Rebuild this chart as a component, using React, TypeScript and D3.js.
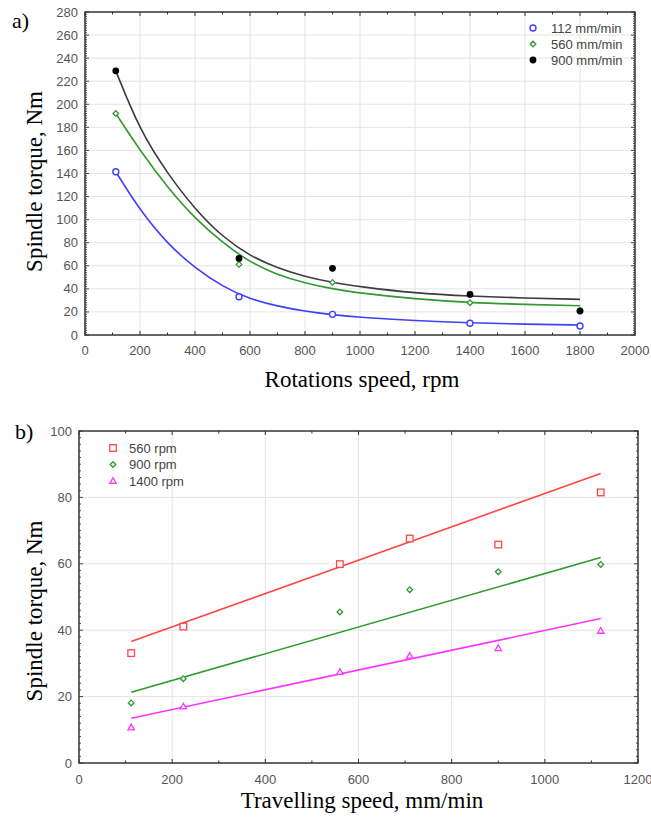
import React from "react";
import * as d3 from "d3";

// ---- panel a) spindle torque vs rotations speed
const rotSpeeds = [112, 560, 900, 1400, 1800];
const torque112 = [141.5, 33.2, 17.9, 10.2, 7.8];
const torque560 = [192, 61.2, 45.6, 28, 21];
const torque900 = [229, 66.4, 57.8, 35.2, 20.8];

// fitted curves
const fitRot = [112, 200, 300, 400, 500, 600, 700, 800, 900, 1000, 1200, 1400, 1600, 1800];
const fit112 = [141.5, 108, 79, 58, 42, 31, 25, 20.5, 17.5, 15.3, 12.4, 10.4, 9.4, 8.7];
const fit560 = [192, 160, 128, 101, 80, 63, 52, 45, 40, 36.3, 31.2, 28, 26.5, 25.4];
const fit900 = [229, 177, 140, 109, 85, 68.5, 58, 50.5, 45.5, 41.8, 36.2, 33.6, 32, 30.9];

const legendA = ["112 mm/min", "560 mm/min", "900 mm/min"];
const xTicksA = d3.range(0, 2001, 200);
const yTicksA = d3.range(0, 281, 20);

// ---- panel b) spindle torque vs travelling speed
const travSpeeds = [112, 224, 560, 710, 900, 1120];
const torque560rpm = [33.1, 41.1, 59.9, 67.6, 65.8, 81.5];
const torque900rpm = [18.1, 25.4, 45.5, 52.2, 57.6, 59.8];
const torque1400rpm = [10.7, 17.0, 27.4, 32.3, 34.6, 39.8];

const lineEnds = [112, 1120];
const line560rpm = [36.6, 87.2];
const line900rpm = [21.3, 61.9];
const line1400rpm = [13.5, 43.5];

const legendB = ["560 rpm", "900 rpm", "1400 rpm"];
const xTicksB = d3.range(0, 1201, 200);
const yTicksB = d3.range(0, 101, 20);

const BLUE = "#3f3fff";
const GREEN = "#2f9a2f";
const DARK = "#3c3c3c";
const RED = "#ff4646";
const MAGENTA = "#ff33ff";
const SANS = "'Liberation Sans', Arial, sans-serif";
const SERIF = "'Liberation Serif', 'Times New Roman', serif";

type Shape = "circle" | "dot" | "diamond" | "square" | "triangle";

function Marker({ shape, x, y, color }: { shape: Shape; x: number; y: number; color: string }) {
  if (shape === "circle")
    return <circle cx={x} cy={y} r={3} fill="white" stroke={color} strokeWidth={1.4} />;
  if (shape === "dot") return <circle cx={x} cy={y} r={3.4} fill="#000" />;
  if (shape === "diamond")
    return (
      <path
        d={`M${x},${y - 2.8}L${x + 2.8},${y}L${x},${y + 2.8}L${x - 2.8},${y}Z`}
        fill="white"
        stroke={color}
        strokeWidth={1.3}
      />
    );
  if (shape === "square")
    return <rect x={x - 3.3} y={y - 3.3} width={6.6} height={6.6} fill="white" stroke={color} strokeWidth={1.3} />;
  return (
    <path
      d={`M${x},${y - 3.3}L${x + 3.2},${y + 2.4}L${x - 3.2},${y + 2.4}Z`}
      fill="white"
      stroke={color}
      strokeWidth={1.3}
    />
  );
}

function Frame({
  x,
  y,
  xMinor,
  yMinor,
  xTicks,
  yTicks,
  labelRight,
  labelY,
}: {
  x: d3.ScaleLinear<number, number>;
  y: d3.ScaleLinear<number, number>;
  xMinor: number[];
  yMinor: number[];
  xTicks: number[];
  yTicks: number[];
  labelRight: number;
  labelY: number;
}) {
  const [x0, x1] = x.range();
  const [y0, y1] = y.range();
  return (
    <g>
      {xTicks.slice(1, -1).map((t) => (
        <line key={"gx" + t} x1={x(t)} x2={x(t)} y1={y0} y2={y1} stroke="#e4e4e4" strokeWidth={1} />
      ))}
      {yTicks.slice(1, -1).map((t) => (
        <line key={"gy" + t} x1={x0} x2={x1} y1={y(t)} y2={y(t)} stroke="#e4e4e4" strokeWidth={1} />
      ))}
      {xMinor.map((t) => {
        const len = xTicks.includes(t) ? 4 : 2.5;
        return (
          <g key={"tx" + t} stroke="#333" strokeWidth={1}>
            <line x1={x(t)} x2={x(t)} y1={y0} y2={y0 - len} />
            <line x1={x(t)} x2={x(t)} y1={y1} y2={y1 + len} />
          </g>
        );
      })}
      {yMinor.map((t) => {
        const len = yTicks.includes(t) ? 4 : 2;
        return (
          <g key={"ty" + t} stroke="#333" strokeWidth={0.9}>
            <line x1={x0} x2={x0 + len} y1={y(t)} y2={y(t)} />
            <line x1={x1} x2={x1 - len} y1={y(t)} y2={y(t)} />
          </g>
        );
      })}
      <rect x={x0} y={y1} width={x1 - x0} height={y0 - y1} fill="none" stroke="#333" strokeWidth={1.5} />
      {xTicks.map((t) => (
        <text key={"lx" + t} x={x(t)} y={labelY} textAnchor="middle" fontFamily={SANS} fontSize={13} fill="#555">
          {t}
        </text>
      ))}
      {yTicks.map((t) => (
        <text
          key={"ly" + t}
          x={labelRight}
          y={y(t)}
          dy="0.35em"
          textAnchor="end"
          fontFamily={SANS}
          fontSize={13}
          fill="#555"
        >
          {t}
        </text>
      ))}
    </g>
  );
}

function PanelA() {
  const x = d3.scaleLinear().domain([0, 2000]).range([85, 635]);
  const y = d3.scaleLinear().domain([0, 280]).range([335, 12]);
  const curve = d3
    .line<number>()
    .x((_, i) => x(fitRot[i]))
    .y((d) => y(d))
    .curve(d3.curveBasis);
  const series = [
    { name: legendA[0], vals: torque112, fit: fit112, color: BLUE, line: BLUE, shape: "circle" as Shape },
    { name: legendA[1], vals: torque560, fit: fit560, color: GREEN, line: GREEN, shape: "diamond" as Shape },
    { name: legendA[2], vals: torque900, fit: fit900, color: "#000", line: DARK, shape: "dot" as Shape },
  ];
  return (
    <g>
      <Frame
        x={x}
        y={y}
        xTicks={xTicksA}
        yTicks={yTicksA}
        xMinor={d3.range(0, 2001, 100)}
        yMinor={d3.range(0, 281, 2)}
        labelRight={78}
        labelY={355}
      />
      {series.map((s) => (
        <path key={s.name} d={curve(s.fit) || ""} fill="none" stroke={s.line} strokeWidth={1.6} />
      ))}
      {series.map((s) =>
        s.vals.map((v, i) => (
          <Marker key={s.name + i} shape={s.shape} x={x(rotSpeeds[i])} y={y(v)} color={s.color} />
        ))
      )}
      {series.map((s, i) => (
        <g key={"lg" + s.name}>
          <Marker shape={s.shape} x={533} y={28 + i * 16} color={s.color} />
          <text x={551} y={28 + i * 16} dy="0.35em" fontFamily={SANS} fontSize={13} fill="#444">
            {s.name}
          </text>
        </g>
      ))}
      <text x={12} y={28} fontFamily={SERIF} fontSize={22} fill="#000">
        a)
      </text>
      <text x={362} y={387} textAnchor="middle" fontFamily={SERIF} fontSize={23} fill="#000">
        Rotations speed, rpm
      </text>
      <text
        transform={`translate(42,${y(140) + 8}) rotate(-90)`}
        textAnchor="middle"
        fontFamily={SERIF}
        fontSize={23}
        fill="#000"
      >
        Spindle torque, Nm
      </text>
    </g>
  );
}

function PanelB() {
  const x = d3.scaleLinear().domain([0, 1200]).range([79, 638]);
  const y = d3.scaleLinear().domain([0, 100]).range([763, 431]);
  const line = d3
    .line<number>()
    .x((_, i) => x(lineEnds[i]))
    .y((d) => y(d));
  const series = [
    { name: legendB[0], vals: torque560rpm, fit: line560rpm, color: RED, shape: "square" as Shape },
    { name: legendB[1], vals: torque900rpm, fit: line900rpm, color: GREEN, shape: "diamond" as Shape },
    { name: legendB[2], vals: torque1400rpm, fit: line1400rpm, color: MAGENTA, shape: "triangle" as Shape },
  ];
  return (
    <g>
      <Frame
        x={x}
        y={y}
        xTicks={xTicksB}
        yTicks={yTicksB}
        xMinor={d3.range(0, 1201, 100)}
        yMinor={d3.range(0, 101, 2)}
        labelRight={72}
        labelY={784}
      />
      {series.map((s) => (
        <path key={s.name} d={line(s.fit) || ""} fill="none" stroke={s.color} strokeWidth={1.6} />
      ))}
      {series.map((s) =>
        s.vals.map((v, i) => (
          <Marker key={s.name + i} shape={s.shape} x={x(travSpeeds[i])} y={y(v)} color={s.color} />
        ))
      )}
      {series.map((s, i) => (
        <g key={"lg" + s.name}>
          <Marker shape={s.shape} x={113} y={448 + i * 16.5} color={s.color} />
          <text x={129} y={448 + i * 16.5} dy="0.35em" fontFamily={SANS} fontSize={13} fill="#444">
            {s.name}
          </text>
        </g>
      ))}
      <text x={15} y={439} fontFamily={SERIF} fontSize={22} fill="#000">
        b)
      </text>
      <text x={362} y={808} textAnchor="middle" fontFamily={SERIF} fontSize={23} fill="#000">
        Travelling speed, mm/min
      </text>
      <text
        transform={`translate(42,${y(50) + 14}) rotate(-90)`}
        textAnchor="middle"
        fontFamily={SERIF}
        fontSize={23}
        fill="#000"
      >
        Spindle torque, Nm
      </text>
    </g>
  );
}

export default function App() {
  return (
    <svg
      width={651}
      height={818}
      style={{ position: "absolute", left: 0, top: 0, background: "white" }}
    >
      <rect width={651} height={818} fill="white" />
      <PanelA />
      <PanelB />
    </svg>
  );
}
